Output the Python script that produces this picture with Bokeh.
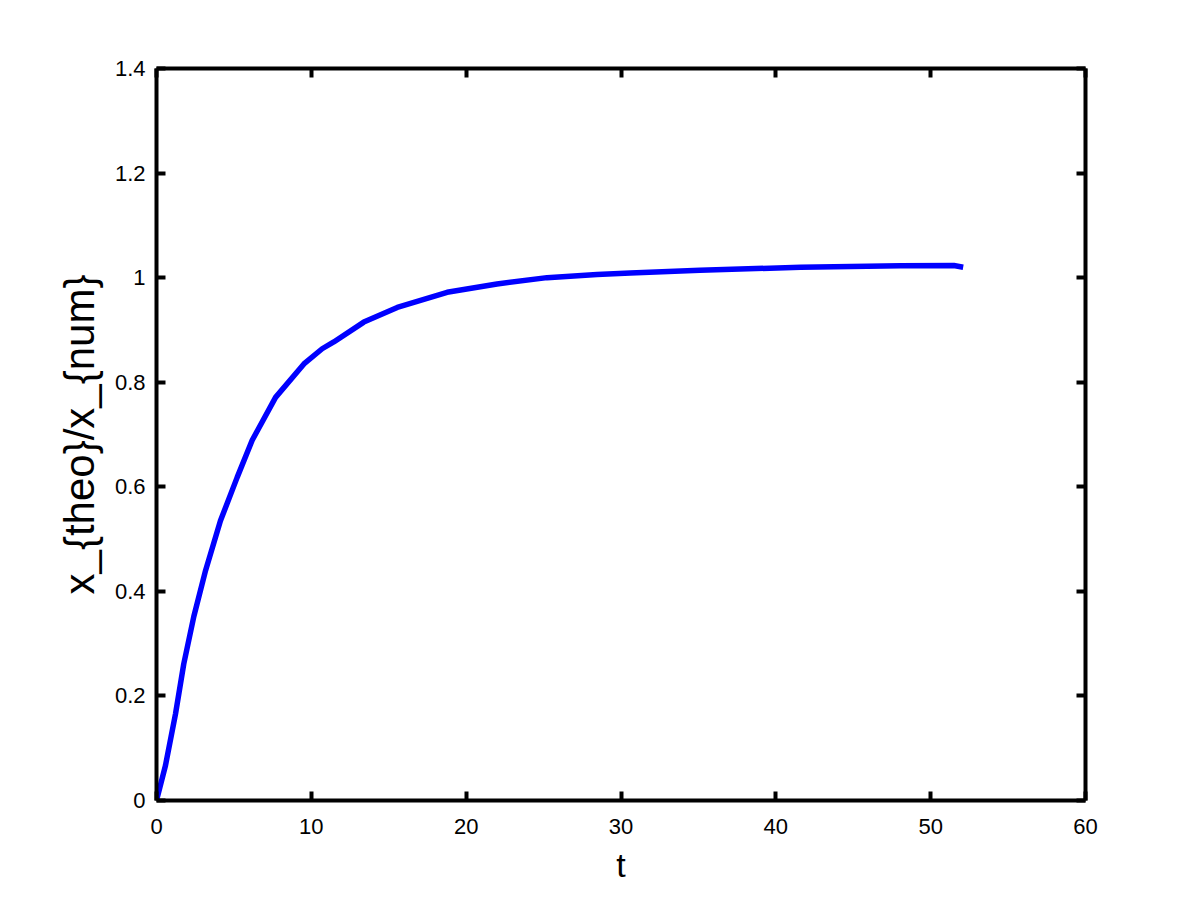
from bokeh.plotting import figure
from bokeh.models import Range1d, LinearAxis, FixedTicker
from bokeh.embed import file_html
from bokeh.resources import INLINE

t_vals = [0, 0.58, 1.23, 1.76, 2.41, 3.17, 4.13, 5.21, 6.18, 7.69, 9.52, 10.7, 11.45,
          13.39, 15.55, 18.77, 21.99, 25.22, 28.45, 30.6, 35.1, 41.6, 48.05, 51.5, 52.1]
ratio_vals = [0, 0.067, 0.166, 0.261, 0.352, 0.44, 0.535, 0.618, 0.689, 0.771, 0.835, 0.864, 0.877,
              0.915, 0.943, 0.972, 0.988, 1.0, 1.006, 1.009, 1.014, 1.020, 1.0226, 1.0232, 1.020]

x_ticks = [0, 10, 20, 30, 40, 50, 60]
y_ticks = [0, 0.2, 0.4, 0.6, 0.8, 1.0, 1.2, 1.4]
y_tick_labels = ["0", "0.2", "0.4", "0.6", "0.8", "1", "1.2", "1.4"]
x_tick_labels = ["0", "10", "20", "30", "40", "50", "60"]

p = figure(width=1192, height=892, output_backend="svg", toolbar_location=None,
           x_range=Range1d(0, 60), y_range=Range1d(0, 1.4),
           min_border_left=156, min_border_right=107, min_border_top=68, min_border_bottom=92,
           x_axis_label="t", y_axis_label="x_{theo}/x_{num}")
p.grid.visible = False
p.outline_line_color = None
p.background_fill_color = "white"
p.border_fill_color = "white"

p.line(t_vals, ratio_vals, line_color="#0000ff", line_width=5.5)

FONT = "Liberation Sans"

def style(ax, ticks, labels, show_labels=True):
    ax.ticker = FixedTicker(ticks=ticks)
    ax.minor_tick_line_color = None
    ax.major_tick_in = 9
    ax.major_tick_out = 0
    ax.major_tick_line_width = 4
    ax.major_tick_line_color = "black"
    ax.axis_line_width = 4
    ax.axis_line_color = "black"
    ax.major_label_text_font = FONT
    ax.major_label_text_font_size = "22px"
    ax.major_label_text_color = "black"
    if show_labels:
        ax.major_label_overrides = {tk: lb for tk, lb in zip(ticks, labels)}
    else:
        ax.major_label_text_font_size = "0px"
        ax.major_label_text_alpha = 0

style(p.xaxis[0], x_ticks, x_tick_labels)
style(p.yaxis[0], y_ticks, y_tick_labels)
p.xaxis[0].major_label_standoff = 18
p.yaxis[0].major_label_standoff = 11
for ax, size in ((p.xaxis[0], "34px"), (p.yaxis[0], "42px")):
    ax.axis_label_text_font = FONT
    ax.axis_label_text_font_size = size
    ax.axis_label_text_font_style = "normal"
    ax.axis_label_text_color = "black"
p.xaxis[0].axis_label_standoff = 9
p.yaxis[0].axis_label_standoff = 9

top = LinearAxis()
style(top, x_ticks, x_tick_labels, show_labels=False)
p.add_layout(top, "above")
right = LinearAxis()
style(right, y_ticks, y_tick_labels, show_labels=False)
p.add_layout(right, "right")

open("out.html", "w").write(file_html(p, INLINE))
